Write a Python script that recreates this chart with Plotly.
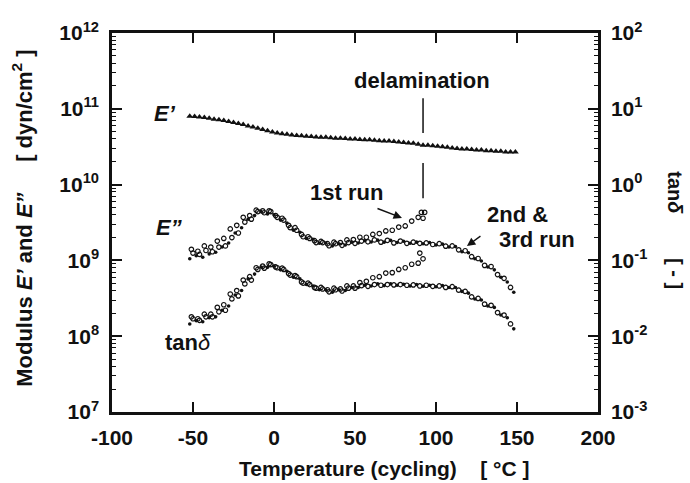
import plotly.graph_objects as go

# ---------------- data ----------------
# E' (storage modulus), dyn/cm^2
ep_T = [-52, -49, -46, -43, -40, -37, -34, -31, -28, -25, -22, -19, -16, -13, -10, -7, -4, -1,
        2, 5, 8, 11, 14, 17, 20, 23, 26, 29, 32, 35, 38, 41, 44, 47, 50, 53, 56, 59, 62, 65,
        68, 71, 74, 77, 80, 83, 86, 89, 92, 95, 98, 101, 104, 107, 110, 113, 116, 119, 122,
        125, 128, 131, 134, 137, 140, 143, 146, 149]
ep_val = [8.0e10, 7.9e10, 7.8e10, 7.65e10, 7.5e10, 7.3e10, 7.15e10, 7.0e10, 6.8e10, 6.6e10,
          6.4e10, 6.2e10, 5.95e10, 5.75e10, 5.55e10, 5.35e10, 5.15e10, 4.95e10, 4.8e10, 4.7e10,
          4.6e10, 4.5e10, 4.45e10, 4.4e10, 4.35e10, 4.3e10, 4.25e10, 4.2e10, 4.2e10, 4.15e10,
          4.1e10, 4.1e10, 4.05e10, 4.0e10, 4.0e10, 3.95e10, 3.9e10, 3.9e10, 3.85e10, 3.8e10,
          3.75e10, 3.75e10, 3.7e10, 3.65e10, 3.6e10, 3.55e10, 3.5e10, 3.4e10, 3.3e10, 3.3e10,
          3.25e10, 3.2e10, 3.15e10, 3.1e10, 3.05e10, 3.0e10, 2.95e10, 2.95e10, 2.9e10, 2.85e10,
          2.85e10, 2.8e10, 2.8e10, 2.75e10, 2.75e10, 2.7e10, 2.7e10, 2.7e10]

# E'' (loss modulus), units of 1e9 dyn/cm^2
run1_T = [-51, -47, -43, -39, -35, -31, -27, -23, -19, -15, -11, -7, -3, 1, 5, 9, 13, 17, 21,
          25, 29, 33, 37, 41, 45, 49, 53, 57, 61, 65, 69, 73, 77, 81, 85, 89]
epp_run1 = [1.4, 1.32, 1.55, 1.5, 1.8, 1.95, 2.6, 2.9, 3.7, 3.9, 4.6, 4.5, 4.5, 3.9, 3.6, 2.9,
            2.7, 2.2, 2.05, 1.82, 1.78, 1.66, 1.74, 1.72, 1.86, 1.88, 2.02, 2.02, 2.2, 2.26,
            2.45, 2.5, 2.75, 2.85, 3.3, 3.7]
run1_extra_T = [91, 93, 92, 90, 92]
epp_run1_extra = [4.3, 4.3, 3.6, 1.25, 1.05]

run2_T = [-52, -48, -44, -40, -36, -32, -28, -24, -20, -16, -12, -8, -4, 0, 4, 8, 12, 16, 20,
          24, 28, 32, 36, 40, 44, 48, 52, 56, 60, 64, 68, 72, 76, 80, 84, 88, 92, 96, 100,
          104, 108, 112, 116, 120, 124, 128, 132, 136, 140, 144, 148]
epp_run2 = [1.05, 1.15, 1.1, 1.22, 1.28, 1.5, 1.7, 2.3, 2.7, 3.5, 3.9, 4.4, 4.1, 4.0, 3.4, 3.1,
            2.5, 2.35, 1.95, 1.9, 1.68, 1.7, 1.55, 1.66, 1.6, 1.74, 1.7, 1.82, 1.75, 1.85,
            1.74, 1.84, 1.72, 1.79, 1.68, 1.74, 1.66, 1.72, 1.6, 1.64, 1.5, 1.52, 1.3, 1.26,
            1.05, 0.98, 0.82, 0.75, 0.6, 0.52, 0.38]

run3_T = [-50, -46, -42, -38, -34, -30, -26, -22, -18, -14, -10, -6, -2, 2, 6, 10, 14, 18, 22,
          26, 30, 34, 38, 42, 46, 50, 54, 58, 62, 66, 70, 74, 78, 82, 86, 90, 94, 98, 102,
          106, 110, 114, 118, 122, 126, 130, 134, 138, 142, 146]
epp_run3 = [1.25, 1.2, 1.35, 1.3, 1.5, 1.55, 2.0, 2.3, 3.2, 3.5, 4.4, 4.25, 4.4, 3.7, 3.4, 2.7,
            2.5, 2.05, 1.95, 1.72, 1.72, 1.56, 1.66, 1.58, 1.72, 1.68, 1.8, 1.76, 1.86, 1.74,
            1.84, 1.7, 1.8, 1.68, 1.74, 1.68, 1.7, 1.62, 1.66, 1.54, 1.55, 1.38, 1.34, 1.12,
            1.06, 0.86, 0.83, 0.65, 0.58, 0.44]

# tan delta, units of 0.01
tan_run1 = [1.8, 1.7, 1.95, 1.95, 2.4, 2.6, 3.6, 4.0, 5.5, 6.1, 8.0, 8.4, 9.0, 8.2, 7.9, 6.7,
            6.3, 5.2, 5.0, 4.4, 4.4, 4.1, 4.3, 4.2, 4.6, 4.6, 5.1, 5.3, 5.9, 6.1, 6.8, 6.9,
            7.6, 8.0, 8.9, 9.2]
tan_run2 = [1.45, 1.6, 1.55, 1.75, 1.8, 2.2, 2.5, 3.5, 4.0, 5.7, 6.6, 8.2, 8.1, 8.4, 7.5, 7.2,
            6.0, 5.7, 4.8, 4.6, 4.1, 4.1, 3.8, 4.1, 4.0, 4.4, 4.4, 4.7, 4.6, 4.9, 4.65, 4.9,
            4.7, 4.85, 4.6, 4.8, 4.55, 4.7, 4.5, 4.65, 4.4, 4.4, 3.9, 3.7, 3.1, 3.0, 2.5, 2.4,
            1.9, 1.75, 1.25]
tan_run3 = [1.7, 1.62, 1.8, 1.8, 2.1, 2.2, 3.1, 3.4, 4.9, 5.5, 7.6, 7.9, 8.8, 8.0, 7.6, 6.4,
            6.1, 5.0, 4.8, 4.3, 4.2, 3.85, 4.1, 3.95, 4.3, 4.3, 4.65, 4.55, 4.8, 4.7, 4.8,
            4.75, 4.8, 4.7, 4.75, 4.6, 4.7, 4.55, 4.6, 4.4, 4.5, 4.05, 3.9, 3.3, 3.15, 2.65,
            2.55, 2.05, 1.9, 1.45]

delam_T = 92
delam_upper = [1.38e11, 4.8e10]
delam_lower = [1.93e10, 6.6e9]

x_ticks = [-100, -50, 0, 50, 100, 150, 200]
left_exps = [7, 8, 9, 10, 11, 12]
right_exps = [-3, -2, -1, 0, 1, 2]

# ---------------- figure ----------------
FONT = "Liberation Sans, Arial, Helvetica, sans-serif"
BLACK = "#111111"

fig = go.Figure()

fig.add_trace(go.Scatter(x=ep_T, y=ep_val, mode="markers",
                         marker=dict(symbol="triangle-up", size=6, color=BLACK, line=dict(width=0)),
                         showlegend=False))

def open_c(size=4.5):
    return dict(symbol="circle-open", size=size, color=BLACK, line=dict(width=1.2, color=BLACK))

def fill_c(size=3.6):
    return dict(symbol="circle", size=size, color=BLACK, line=dict(width=0))

# E'' runs
fig.add_trace(go.Scatter(x=run1_T + run1_extra_T,
                         y=[v * 1e9 for v in epp_run1 + epp_run1_extra],
                         mode="markers", marker=open_c(), showlegend=False))
fig.add_trace(go.Scatter(x=run2_T, y=[v * 1e9 for v in epp_run2],
                         mode="markers", marker=fill_c(), showlegend=False))
fig.add_trace(go.Scatter(x=run3_T, y=[v * 1e9 for v in epp_run3],
                         mode="markers", marker=open_c(), showlegend=False))

# tan delta runs (right axis)
fig.add_trace(go.Scatter(x=run1_T, y=[v * 0.01 for v in tan_run1], yaxis="y2",
                         mode="markers", marker=open_c(), showlegend=False))
fig.add_trace(go.Scatter(x=run2_T, y=[v * 0.01 for v in tan_run2], yaxis="y2",
                         mode="markers", marker=fill_c(), showlegend=False))
fig.add_trace(go.Scatter(x=run3_T, y=[v * 0.01 for v in tan_run3], yaxis="y2",
                         mode="markers", marker=open_c(), showlegend=False))

# delamination marker line
for seg in (delam_upper, delam_lower):
    fig.add_trace(go.Scatter(x=[delam_T, delam_T], y=seg, mode="lines",
                             line=dict(color=BLACK, width=1.5), showlegend=False,
                             hoverinfo="skip"))

def sup_labels(exps):
    return ["<b>10<sup>%d</sup></b>" % e for e in exps]

left_minor = [m * 10.0 ** e for e in left_exps[:-1] for m in range(2, 10)]
right_minor = [m * 10.0 ** e for e in right_exps[:-1] for m in range(2, 10)]

axis_font = dict(family=FONT, size=21, color=BLACK)

fig.update_layout(
    width=690, height=483,
    margin=dict(l=112, r=92, t=33, b=71),
    paper_bgcolor="white", plot_bgcolor="white",
    font=dict(family=FONT, color=BLACK),
    xaxis=dict(range=[-100, 200], tickmode="array", tickvals=x_ticks,
               ticktext=["<b>%d</b>" % v for v in x_ticks],
               ticks="inside", ticklen=10, tickwidth=2, tickcolor=BLACK,
               showline=True, linewidth=2.5, linecolor=BLACK, mirror="ticks",
               showgrid=False, zeroline=False, tickfont=axis_font,
               ticklabelstandoff=5),
    yaxis=dict(type="log", range=[7, 12], tickmode="array",
               tickvals=[10.0 ** e for e in left_exps], ticktext=sup_labels(left_exps),
               ticks="inside", ticklen=10, tickwidth=2, tickcolor=BLACK,
               minor=dict(tickmode="array", tickvals=left_minor, ticks="inside",
                          ticklen=4, tickwidth=1.2, tickcolor=BLACK, showgrid=False),
               showline=True, linewidth=2.5, linecolor=BLACK,
               showgrid=False, zeroline=False, tickfont=axis_font,
               ticklabelstandoff=6),
    yaxis2=dict(type="log", range=[-3, 2], overlaying="y", side="right",
                tickmode="array", tickvals=[10.0 ** e for e in right_exps],
                ticktext=sup_labels(right_exps),
                ticks="inside", ticklen=10, tickwidth=2, tickcolor=BLACK,
                minor=dict(tickmode="array", tickvals=right_minor, ticks="inside",
                           ticklen=4, tickwidth=1.2, tickcolor=BLACK, showgrid=False),
                showline=True, linewidth=2.5, linecolor=BLACK,
                showgrid=False, zeroline=False, tickfont=axis_font,
                ticklabelstandoff=6),
)

tf = dict(family=FONT, size=22, color=BLACK)
ann = []
# axis titles
ann.append(dict(text="<b>Temperature (cycling)&nbsp;&nbsp;&nbsp;&nbsp;[ °C ]</b>",
                xref="paper", yref="paper", x=0.56, y=-0.15, xanchor="center",
                yanchor="middle", showarrow=False, font=dict(family=FONT, size=21, color=BLACK)))
ann.append(dict(text="<b>Modulus <i>E’</i> and <i>E”</i>&nbsp;&nbsp;&nbsp;&nbsp;&nbsp;[ dyn/cm<sup>2</sup> ]</b>",
                xref="paper", yref="paper", x=-0.185, y=0.51, textangle=-90,
                xanchor="center", yanchor="middle", showarrow=False,
                font=dict(family=FONT, size=22, color=BLACK)))
ann.append(dict(text="<b>tan<i>δ</i>&nbsp;&nbsp;&nbsp;&nbsp;&nbsp;&nbsp;&nbsp;&nbsp;[ - ]</b>",
                xref="paper", yref="paper", x=1.158, y=0.48, textangle=90,
                xanchor="center", yanchor="middle", showarrow=False,
                font=dict(family=FONT, size=20, color=BLACK)))
# in-plot labels (y in log10 units)
ann.append(dict(text="<b><i>E’</i></b>", x=-67.3, y=10.94, showarrow=False, font=tf))
ann.append(dict(text="<b><i>E”</i></b>", x=-64.8, y=9.44, showarrow=False, font=tf))
ann.append(dict(text="<b>tan</b><i>δ</i>", x=-53, y=7.92, showarrow=False, font=tf))
ann.append(dict(text="<b>delamination</b>", x=91.4, y=11.38, showarrow=False, font=tf))
ann.append(dict(text="<b>1st run</b>", x=45, y=9.90, showarrow=False, font=tf))
ann.append(dict(text="<b>2nd &amp;</b>", x=150, y=9.61, showarrow=False, font=tf))
ann.append(dict(text="<b>3rd run</b>", x=162.3, y=9.28, showarrow=False, font=tf))
# arrows
ann.append(dict(text="", x=79, y=9.56, ax=-26, ay=-10, showarrow=True,
                arrowhead=2, arrowsize=1.2, arrowwidth=1.4, arrowcolor=BLACK))
ann.append(dict(text="", x=119.1, y=9.19, ax=15, ay=-11, showarrow=True,
                arrowhead=2, arrowsize=1.2, arrowwidth=1.4, arrowcolor=BLACK))
fig.update_layout(annotations=ann)

fig.write_html("out.html")
